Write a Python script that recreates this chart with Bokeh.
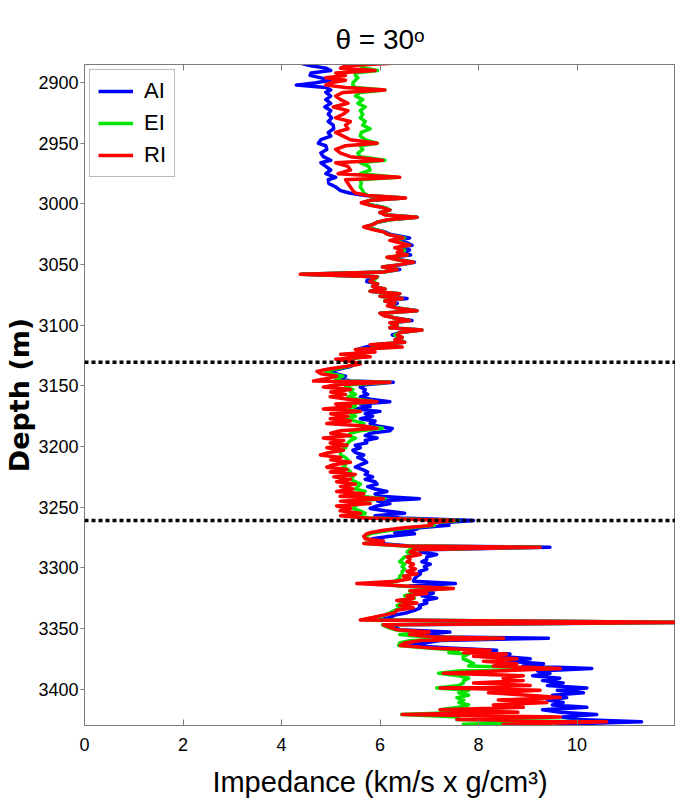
from bokeh.plotting import figure
from bokeh.models import Range1d, FixedTicker, LinearAxis, Span, Legend, LegendItem
from bokeh.embed import file_html
from bokeh.resources import INLINE

# ---------------- data ----------------
depth = [
    2884, 2886, 2888, 2890, 2892, 2894, 2896, 2898, 2900, 2902,
    2904, 2906, 2908, 2911, 2914, 2917, 2920, 2923, 2926, 2929,
    2932, 2935, 2938, 2941, 2944, 2947, 2950, 2952, 2955, 2958,
    2961, 2964, 2966, 2969, 2972, 2975, 2978, 2980, 2983, 2986,
    2989, 2991,
    2993, 2995, 2997, 2999, 3001, 3003, 3005, 3007, 3009, 3011,
    3013, 3015, 3017, 3019, 3021, 3023, 3025, 3028, 3030, 3032,
    3034, 3036, 3038, 3040, 3042, 3044, 3046, 3048, 3050, 3052,
    3054, 3056, 3058, 3060, 3062, 3064, 3066, 3068, 3070, 3072,
    3074, 3076, 3078, 3080, 3082, 3084, 3086, 3088, 3090, 3092,
    3094, 3096, 3098, 3100, 3102, 3104, 3106, 3108, 3110, 3112,
    3114, 3116, 3118, 3120, 3122, 3124, 3126,
    3128, 3130, 3132, 3134, 3136, 3138, 3140, 3142, 3144, 3146,
    3147, 3149, 3151, 3153, 3155, 3157, 3159, 3161, 3163, 3165,
    3167, 3169, 3171, 3173, 3175, 3177, 3179, 3181, 3183, 3185,
    3187, 3189, 3191, 3193, 3195, 3197, 3199, 3201, 3203, 3205,
    3207, 3209, 3211, 3213, 3215, 3217, 3219, 3221, 3223, 3225,
    3227, 3229, 3231, 3233, 3235, 3237, 3239, 3241, 3243, 3245,
    3247, 3249, 3251, 3253, 3255, 3257, 3259,
    3261, 3263, 3265, 3267, 3269, 3271, 3272, 3274, 3276, 3278,
    3280, 3282, 3283, 3285, 3287, 3289, 3291, 3293, 3295, 3297,
    3299, 3301, 3303, 3305, 3307, 3309, 3311, 3313, 3315, 3317,
    3319, 3321, 3323, 3325, 3327, 3329, 3331, 3333, 3335, 3337,
    3339, 3341, 3343, 3345,
    3347, 3349, 3351, 3353, 3355, 3357, 3358, 3360, 3362, 3364,
    3366, 3368, 3370, 3371, 3373, 3375, 3377, 3379, 3381, 3383,
    3385, 3387, 3389, 3391, 3393, 3395, 3397, 3399, 3401, 3403,
    3405, 3407, 3409, 3411, 3413, 3415, 3417, 3419, 3421, 3423,
    3425, 3427, 3429, 3431,
]

ai = [
    4.40, 4.60, 4.90, 5.00, 4.60, 4.58, 4.80, 5.00, 4.70, 4.30,
    4.90, 5.00, 4.90, 5.00, 4.90, 5.00, 4.88, 5.00, 4.95, 5.02,
    4.95, 5.05, 5.06, 4.95, 5.00, 4.80, 4.75, 4.90, 4.92, 4.80,
    4.85, 5.00, 4.80, 4.90, 5.00, 4.90, 5.10, 4.95, 4.96, 5.10,
    5.20, 5.38,
    5.70, 6.50, 5.80, 5.65, 5.85, 6.10, 6.20, 6.00, 6.15, 6.75,
    6.20, 5.95, 5.85, 5.70, 5.90, 6.10, 6.20, 6.60, 6.30, 6.55,
    6.65, 6.40, 6.60, 6.45, 6.62, 6.20, 6.40, 6.70, 6.45, 6.05,
    6.40, 6.10, 4.40, 5.95, 5.75, 5.73, 5.95, 5.85, 6.10, 5.80,
    6.40, 6.00, 6.55, 6.10, 6.35, 6.20, 6.40, 6.75, 6.00, 6.10,
    6.30, 6.65, 6.25, 6.35, 6.20, 6.85, 6.40, 6.25, 6.45, 6.40,
    6.50, 5.90, 5.70, 5.55, 5.70, 5.40, 5.60,
    5.35, 5.45, 5.50, 5.40, 5.20, 5.00, 5.10, 5.30, 5.20, 5.40,
    6.27, 5.70, 5.60, 5.70, 5.67, 5.75, 5.60, 5.80, 6.20, 5.60,
    5.80, 5.50, 6.00, 5.70, 5.85, 5.60, 5.90, 5.80, 5.95, 6.25,
    6.20, 5.80, 5.70, 5.94, 5.70, 5.73, 5.50, 5.60, 5.45, 5.50,
    5.67, 5.55, 5.67, 5.73, 5.60, 5.50, 5.65, 5.75, 5.70, 5.85,
    5.70, 5.90, 5.94, 5.75, 5.90, 6.14, 5.90, 6.00, 6.80, 5.95,
    6.20, 5.94, 5.80, 6.10, 6.50, 5.90, 6.40,
    7.90, 7.20, 7.40, 6.80, 6.68, 6.30, 6.70, 6.20, 5.85, 6.07,
    6.00, 6.60, 9.45, 6.95, 6.82, 7.15, 6.95, 6.95, 6.85, 7.02,
    6.90, 6.95, 6.80, 6.82, 6.75, 6.70, 6.68, 7.53, 6.60, 7.29,
    6.90, 7.08, 6.85, 7.15, 6.90, 6.95, 6.80, 6.82, 6.70, 6.55,
    6.30, 6.20, 6.00, 12.40,
    6.20, 6.30, 6.40, 7.42, 6.80, 7.30, 9.42, 7.22, 6.90, 6.60,
    7.40, 8.37, 8.20, 8.64, 8.40, 9.05, 8.60, 9.32, 8.90, 10.30,
    9.20, 9.45, 9.10, 9.65, 9.30, 9.72, 9.40, 10.20, 9.60, 10.13,
    9.50, 9.79, 9.40, 9.72, 9.50, 10.20, 9.30, 9.66, 10.40, 9.70,
    10.00, 11.31, 9.60, 10.00,
]

ei = [
    5.50, 5.60, 5.70, 5.95, 5.50, 5.50, 5.55, 5.50, 5.45, 5.45,
    5.50, 6.10, 5.60, 5.50, 5.65, 5.55, 5.70, 5.60, 5.65, 5.60,
    5.70, 5.65, 5.80, 5.62, 5.60, 5.70, 5.95, 5.60, 5.65, 5.55,
    5.60, 6.10, 5.60, 5.77, 5.80, 5.60, 6.35, 5.60, 5.62, 5.60,
    5.65, 5.67,
    5.75, 6.50, 5.80, 5.65, 5.85, 6.10, 6.20, 6.00, 6.15, 6.75,
    6.20, 5.95, 5.85, 5.70, 5.90, 6.08, 6.15, 6.50, 6.25, 6.45,
    6.60, 6.35, 6.50, 6.40, 6.55, 6.15, 6.35, 6.68, 6.40, 6.05,
    6.35, 6.10, 4.40, 5.95, 5.90, 5.80, 5.95, 5.85, 6.10, 5.80,
    6.40, 6.00, 6.45, 6.10, 6.30, 6.20, 6.40, 6.75, 6.00, 6.10,
    6.30, 6.60, 6.25, 6.35, 6.20, 6.85, 6.40, 6.30, 6.45, 6.35,
    6.50, 5.85, 6.30, 5.55, 5.85, 5.30, 5.70,
    5.30, 5.45, 5.50, 5.35, 5.10, 4.90, 5.00, 5.25, 5.10, 5.20,
    6.20, 5.40, 5.30, 5.45, 5.40, 5.50, 5.35, 5.55, 5.90, 5.30,
    5.50, 5.20, 5.60, 5.40, 5.50, 5.30, 5.50, 5.67, 5.60, 6.05,
    5.60, 5.40, 5.35, 5.50, 5.40, 5.35, 5.30, 5.30, 5.19, 5.20,
    5.20, 5.30, 5.35, 5.30, 5.30, 5.25, 5.35, 5.40, 5.35, 5.45,
    5.40, 5.50, 5.60, 5.55, 5.50, 5.70, 5.55, 5.60, 6.10, 5.50,
    5.60, 5.50, 5.45, 5.60, 5.70, 5.45, 5.80,
    7.60, 7.00, 7.10, 6.60, 6.20, 5.90, 5.80, 5.70, 5.75, 5.90,
    5.70, 6.50, 9.25, 6.60, 6.55, 6.70, 6.50, 6.45, 6.40, 6.50,
    6.45, 6.50, 6.45, 6.45, 6.40, 6.40, 6.30, 6.10, 6.40, 7.40,
    6.60, 6.70, 6.50, 6.70, 6.40, 6.50, 6.35, 6.40, 6.30, 6.20,
    6.10, 5.90, 5.70, 12.40,
    6.05, 6.15, 6.30, 6.80, 6.40, 6.90, 8.40, 6.60, 6.40, 6.38,
    6.90, 7.60, 7.40, 7.80, 7.69, 7.69, 7.80, 7.90, 7.80, 9.50,
    7.60, 7.19, 7.60, 7.80, 7.70, 7.69, 7.60, 7.15, 7.80, 7.60,
    7.80, 7.56, 7.70, 7.60, 7.80, 7.60, 7.22, 7.70, 6.44, 7.60,
    7.56, 10.20, 7.69, 7.70,
]

ri = [
    6.25, 5.30, 5.20, 5.90, 5.10, 5.30, 4.90, 5.30, 5.00, 4.90,
    5.30, 6.10, 5.25, 5.10, 5.20, 5.35, 5.05, 5.35, 5.25, 5.10,
    5.40, 5.30, 5.35, 5.10, 5.25, 5.40, 5.94, 5.30, 5.10, 5.20,
    5.40, 6.05, 5.10, 5.35, 5.40, 5.15, 6.40, 5.30, 5.35, 5.40,
    5.45, 5.50,
    5.75, 6.52, 5.80, 5.62, 5.80, 6.05, 6.20, 6.00, 6.10, 6.75,
    6.15, 5.94, 5.85, 5.67, 5.85, 6.07, 6.15, 6.47, 6.20, 6.40,
    6.60, 6.30, 6.45, 6.35, 6.55, 6.14, 6.35, 6.68, 6.40, 6.05,
    6.35, 6.08, 4.38, 5.94, 5.85, 5.80, 5.95, 5.85, 6.10, 5.80,
    6.40, 6.00, 6.45, 6.10, 6.30, 6.15, 6.35, 6.75, 6.00, 6.07,
    6.30, 6.60, 6.20, 6.35, 6.20, 6.85, 6.40, 6.35, 6.45, 6.30,
    6.50, 5.80, 6.45, 5.50, 5.90, 5.20, 5.80,
    5.10, 5.45, 5.60, 5.30, 4.95, 4.72, 4.80, 5.12, 4.90, 4.65,
    6.20, 5.10, 4.85, 5.40, 5.00, 5.30, 4.99, 5.35, 5.94, 5.10,
    5.40, 4.85, 5.60, 5.00, 5.35, 4.99, 5.40, 4.92, 5.67, 5.94,
    5.20, 5.00, 5.40, 4.85, 5.26, 4.99, 5.33, 4.92, 5.26, 4.95,
    4.79, 5.20, 5.00, 5.40, 5.06, 4.92, 5.33, 4.99, 5.50, 5.06,
    5.40, 5.12, 5.50, 5.20, 5.45, 5.12, 5.67, 5.19, 6.07, 5.20,
    5.80, 5.12, 5.40, 5.19, 5.60, 5.20, 5.70,
    7.50, 7.00, 7.05, 6.50, 6.07, 5.80, 5.73, 5.67, 5.70, 6.07,
    5.67, 6.55, 9.25, 6.68, 6.61, 6.82, 6.55, 6.61, 6.55, 6.68,
    6.61, 6.72, 6.55, 6.75, 6.48, 6.61, 6.34, 5.53, 6.50, 7.49,
    6.61, 6.95, 6.55, 6.68, 6.34, 6.75, 6.40, 6.68, 6.34, 6.30,
    6.07, 5.85, 5.60, 12.40,
    6.07, 6.20, 6.34, 7.00, 6.60, 7.10, 8.51, 6.82, 6.50, 6.41,
    7.02, 8.24, 7.70, 8.57, 7.90, 8.78, 8.10, 8.78, 8.30, 9.66,
    8.40, 7.29, 8.91, 8.50, 8.91, 7.90, 9.05, 7.22, 9.25, 8.20,
    9.00, 9.66, 8.40, 9.39, 8.30, 8.91, 7.22, 8.80, 6.45, 9.66,
    7.56, 10.60, 8.50, 9.00,
]

series_names = ["AI", "EI", "RI"]
boundaries = [3130.5, 3261.0]
x_ticks = [0, 2, 4, 6, 8, 10]
y_ticks = [2900, 2950, 3000, 3050, 3100, 3150, 3200, 3250, 3300, 3350, 3400]
title_text = "θ = 30ᵒ"
x_label = "Impedance (km/s x g/cm³)"
y_label = "Depth (m)"

# ---------------- styling ----------------
FONT = "Liberation Sans"
GRAY = "#7a7a7a"
colors = ["#0000ff", "#00e600", "#ff0000"]

p = figure(width=675, height=812, output_backend="svg", toolbar_location=None,
           x_range=Range1d(0, 12), y_range=Range1d(3430, 2885),
           min_border_left=84, min_border_right=0, min_border_top=64,
           min_border_bottom=87)
p.background_fill_color = "white"
p.border_fill_color = "white"
p.outline_line_color = GRAY
p.outline_line_width = 1
p.xgrid.visible = False
p.ygrid.visible = False

p.title.text = title_text
p.title.align = "center"
p.title.text_font = FONT
p.title.text_font_size = "28px"
p.title.text_font_style = "normal"
p.title.text_color = "black"
p.title.standoff = 20

p.xaxis.ticker = FixedTicker(ticks=x_ticks)
p.yaxis.ticker = FixedTicker(ticks=y_ticks)
for ax in (p.xaxis, p.yaxis):
    ax.axis_line_color = GRAY
    ax.major_tick_line_color = GRAY
    ax.minor_tick_line_color = None
    ax.major_label_text_font = FONT
    ax.major_label_text_font_size = "18px"
    ax.major_label_text_color = "black"
    ax.axis_label_text_color = "black"
p.xaxis.major_tick_in = 6
p.xaxis.major_tick_out = 0
p.xaxis.major_label_standoff = 12
p.yaxis.major_tick_in = 0
p.yaxis.major_tick_out = 4
p.yaxis.major_label_standoff = 2

p.xaxis.axis_label = x_label
p.xaxis.axis_label_text_font = FONT
p.xaxis.axis_label_text_font_size = "29px"
p.xaxis.axis_label_text_font_style = "normal"
p.xaxis.axis_label_standoff = 12

p.yaxis.axis_label = y_label
p.yaxis.axis_label_text_font = "DejaVu Sans"
p.yaxis.axis_label_text_font_size = "27px"
p.yaxis.axis_label_text_font_style = "bold"
p.yaxis.axis_label_standoff = 0

top_axis = LinearAxis(ticker=FixedTicker(ticks=x_ticks), major_tick_in=6, major_tick_out=0,
                      major_label_overrides={t: "" for t in x_ticks},
                      minor_tick_line_color=None,
                      axis_line_color=GRAY, major_tick_line_color=GRAY)
p.add_layout(top_axis, "above")

renderers = []
for vals, col in zip([ai, ei, ri], colors):
    r = p.line(vals, depth, line_color=col, line_width=3.5, line_join="round")
    renderers.append(r)

for b in boundaries:
    p.add_layout(Span(location=b, dimension="width", line_color="black",
                      line_width=3.5, line_dash="4 3"))

legend = Legend(items=[LegendItem(label=n, renderers=[r]) for n, r in zip(series_names, renderers)],
                location="top_left", margin=5, padding=8, spacing=6,
                glyph_width=35, glyph_height=22, label_height=22, label_standoff=11,
                label_text_font=FONT, label_text_font_size="22px",
                label_text_color="black",
                border_line_color=GRAY, border_line_width=1,
                background_fill_alpha=1.0)
p.add_layout(legend)

open("out.html", "w").write(file_html(p, INLINE))
